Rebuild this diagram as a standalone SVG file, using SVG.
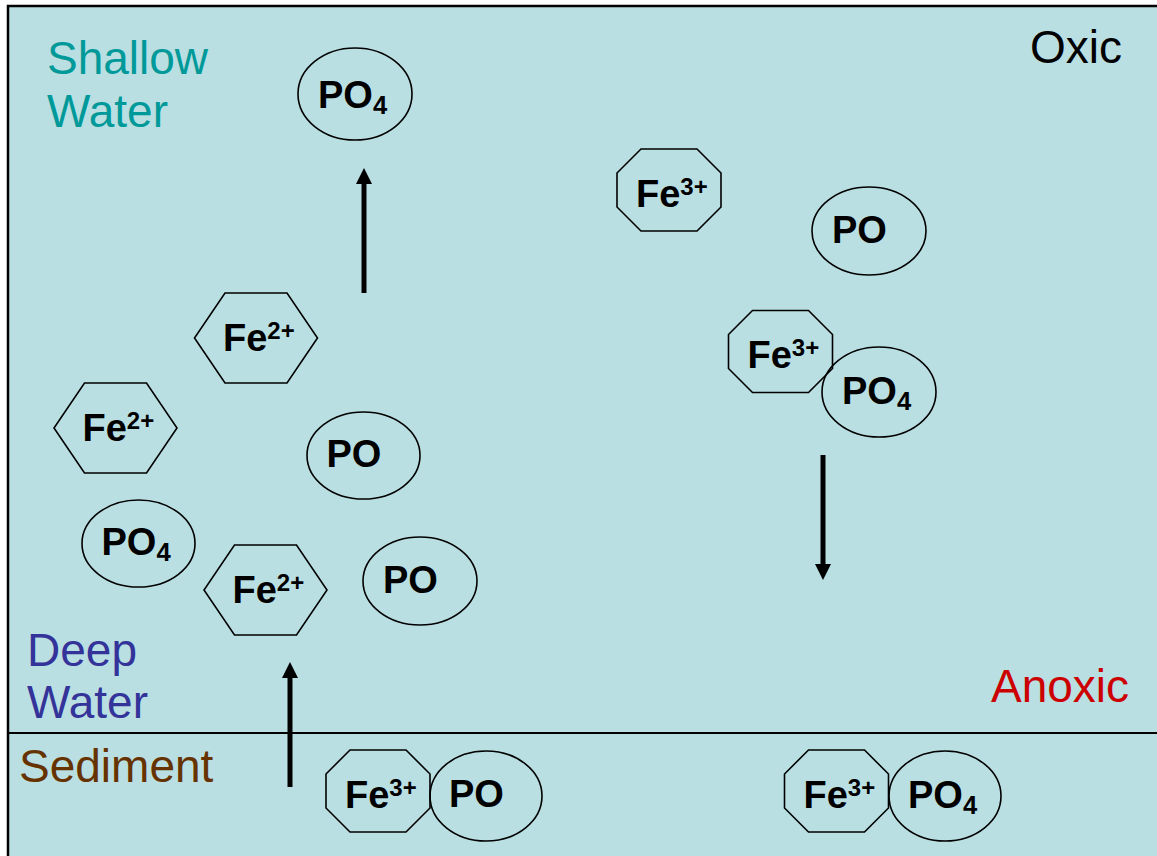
<svg xmlns="http://www.w3.org/2000/svg" width="1157" height="856" viewBox="0 0 1157 856">
  <defs>
    <style>
      .frame { fill: #B9DFE3; stroke: #000; stroke-width: 2.5; }
      .divider { stroke: #000; stroke-width: 2; }
      .shape { fill: none; stroke: #000; stroke-width: 1.6; }
      .chem { font-family: "Liberation Sans", Arial, sans-serif; font-weight: bold; font-size: 38px; fill: #000; }
      .sup { font-size: 24px; }
      .sub { font-size: 25.6px; }
      .zone { font-family: "Liberation Sans", Arial, sans-serif; font-size: 46px; }
      .arrow { stroke: #000; stroke-width: 5; fill: none; marker-end: url(#head); }
    </style>
    <marker id="head" markerUnits="userSpaceOnUse" markerWidth="16" markerHeight="16" refX="0" refY="8" orient="auto" overflow="visible">
      <path d="M0,0 L16,8 L0,16 Z" fill="#000"/>
    </marker>
    <!-- Fe2+ ion outline -->
    <polygon id="hex" class="shape" points="-31,-45 31,-45 61.5,0 31,45 -31,45 -61.5,0"/>
    <!-- Fe3+ ion outline -->
    <polygon id="oct" class="shape" points="-28,-41 28,-41 52,-17 52,17 28,41 -28,41 -52,17 -52,-17"/>
  </defs>

  <!-- water column and sediment -->
  <rect class="frame" x="8" y="6" width="1200" height="900"/>
  <line class="divider" x1="8" y1="733" x2="1157" y2="733"/>

  <!-- zone labels -->
  <g id="labels" class="zone">
    <text x="47" y="74" fill="#009999">Shallow</text>
    <text x="47" y="127" fill="#009999">Water</text>
    <text x="1030" y="63" fill="#000">Oxic</text>
    <text x="27" y="666" fill="#333399">Deep</text>
    <text x="27" y="718" fill="#333399">Water</text>
    <text x="991" y="702" fill="#CC0000">Anoxic</text>
    <text x="19" y="782" fill="#663300">Sediment</text>
  </g>

  <!-- ferrous iron -->
  <g id="fe2-a">
    <use href="#hex" x="256" y="338"/>
    <text class="chem" x="223" y="351">Fe<tspan class="sup" dy="-12">2+</tspan></text>
  </g>
  <g id="fe2-b">
    <use href="#hex" x="115.5" y="428"/>
    <text class="chem" x="82.5" y="441">Fe<tspan class="sup" dy="-12">2+</tspan></text>
  </g>
  <g id="fe2-c">
    <use href="#hex" x="265.5" y="590"/>
    <text class="chem" x="232.5" y="603">Fe<tspan class="sup" dy="-12">2+</tspan></text>
  </g>

  <!-- ferric iron -->
  <g id="fe3-a">
    <use href="#oct" x="669" y="190"/>
    <text class="chem" x="636" y="207">Fe<tspan class="sup" dy="-12">3+</tspan></text>
  </g>
  <g id="fe3-b">
    <use href="#oct" x="780.5" y="351.5"/>
    <text class="chem" x="747.5" y="368">Fe<tspan class="sup" dy="-12">3+</tspan></text>
  </g>
  <g id="fe3-c">
    <use href="#oct" x="378" y="791"/>
    <text class="chem" x="345" y="808">Fe<tspan class="sup" dy="-12">3+</tspan></text>
  </g>
  <g id="fe3-d">
    <use href="#oct" x="836.5" y="791"/>
    <text class="chem" x="803.5" y="808">Fe<tspan class="sup" dy="-12">3+</tspan></text>
  </g>

  <!-- phosphate -->
  <g id="po4-top">
    <ellipse class="shape" cx="355" cy="94" rx="57" ry="46"/>
    <text class="chem" x="318" y="108">PO<tspan class="sub" dy="6">4</tspan></text>
  </g>
  <g id="po-right">
    <ellipse class="shape" cx="869" cy="231" rx="57" ry="44"/>
    <text class="chem" x="832" y="243">PO</text>
  </g>
  <g id="po4-bound">
    <ellipse class="shape" cx="879" cy="392" rx="57" ry="45"/>
    <text class="chem" x="842" y="404">PO<tspan class="sub" dy="6">4</tspan></text>
  </g>
  <g id="po-mid">
    <ellipse class="shape" cx="363.5" cy="455.5" rx="56.5" ry="43.5"/>
    <text class="chem" x="326.5" y="467">PO</text>
  </g>
  <g id="po4-left">
    <ellipse class="shape" cx="138.5" cy="543.5" rx="56.5" ry="43.5"/>
    <text class="chem" x="101.5" y="555">PO<tspan class="sub" dy="6">4</tspan></text>
  </g>
  <g id="po-low">
    <ellipse class="shape" cx="420" cy="581" rx="57" ry="44"/>
    <text class="chem" x="383" y="593">PO</text>
  </g>
  <g id="po-sed">
    <ellipse class="shape" cx="486" cy="796" rx="56" ry="45"/>
    <text class="chem" x="449" y="807">PO</text>
  </g>
  <g id="po4-sed">
    <ellipse class="shape" cx="945" cy="796" rx="56" ry="45"/>
    <text class="chem" x="908" y="808">PO<tspan class="sub" dy="6">4</tspan></text>
  </g>

  <!-- fluxes -->
  <g id="connectors">
    <line class="arrow" x1="364" y1="293" x2="364" y2="184"/>
    <line class="arrow" x1="290" y1="787" x2="290" y2="678"/>
    <line class="arrow" x1="823" y1="455" x2="823" y2="564"/>
  </g>
</svg>
